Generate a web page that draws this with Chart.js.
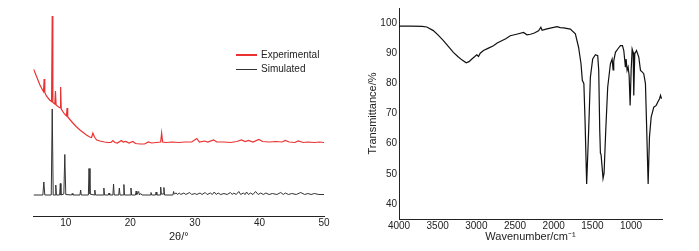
<!DOCTYPE html>
<html>
<head>
<meta charset="utf-8">
<script src="https://cdn.jsdelivr.net/npm/chart.js@4/dist/chart.umd.min.js"></script>
<style>
  body { margin: 0; background: #fff; width: 699px; height: 251px; overflow: hidden; position: relative; font-family: "Liberation Sans", Arial, sans-serif; }
  #xrd { position: absolute; left: 0; top: 0; }
  #ir { position: absolute; left: 350px; top: 0; }
  .lg { position: absolute; font-size: 10px; line-height: 12px; color: #222; }
  .lgline { position: absolute; height: 1.5px; width: 21px; }
</style>
</head>
<body>
<canvas id="xrd" width="350" height="251"></canvas>
<canvas id="ir" width="349" height="251"></canvas>
<div class="lgline" style="left:236px; top:54px; background:rgb(235,50,50)"></div>
<div class="lg" style="left:261px; top:49px">Experimental</div>
<div class="lgline" style="left:236px; top:68.5px; background:#333"></div>
<div class="lg" style="left:261px; top:63px">Simulated</div>
<script>
// PXRD (left panel)
var expTheta = [5.0, 5.5, 6.0, 6.4, 6.55, 6.65, 6.75, 7.0, 7.5, 7.8, 7.9, 8.0, 8.3, 8.4, 8.5, 8.9, 9.15, 9.2, 9.3,
  9.8, 10.1, 10.2, 10.3, 10.7, 11.1, 11.6, 12.2, 12.7, 13.2, 13.7, 14.0, 14.2, 14.45, 14.8, 15.3, 16.0, 16.5,
  17.0, 17.3, 17.6, 18.0, 18.6, 18.9, 19.3, 19.8, 20.4, 20.8, 21.5, 22.2, 22.8, 23.3, 24.0, 24.7, 24.85, 25.0,
  25.5, 26.5, 27.5, 28.5, 29.5, 30.3, 30.7, 31.5, 32.0, 32.9, 33.4, 34.5, 35.5, 36.5, 37.2, 37.8, 38.3, 39.0,
  39.9, 40.5, 41.5, 42.5, 43.5, 44.0, 44.6, 45.5, 46.0, 46.8, 47.5, 48.5, 49.3, 50.0];
var expIntensity = [147, 139, 131, 126, 124.5, 137, 123.5, 120, 116, 114.5, 200, 113.5, 112, 125, 111, 109, 108, 129, 107,
  102, 100, 108, 99, 96, 93, 89.5, 86, 83.5, 81, 79, 78.5, 83, 79, 76, 75, 74, 73.5,
  73.5, 75.5, 73.5, 73, 75.5, 74, 74.5, 73, 74.5, 72.5, 72, 72, 74, 73, 73.5, 74, 83, 74,
  73.5, 74, 73.5, 74, 74, 77.5, 74, 75, 74, 76, 74, 74, 73.5, 74.5, 76, 74.5, 75.5, 74,
  76.5, 74.5, 74, 74.5, 74, 75.5, 74, 73.5, 75, 73.5, 74, 73.5, 74, 73.5];

var simTheta = [5.0, 6.45, 6.6, 6.75, 7.75, 7.9, 8.05, 8.35, 8.45, 8.55, 9.05, 9.15, 9.25, 9.7, 9.85, 10.0,
  10.9, 11.0, 11.1, 12.2, 12.3, 12.4, 13.5, 13.6, 13.75, 14.4, 14.5, 14.6, 15.8, 15.9, 16.0, 16.6, 16.7, 16.8,
  17.3, 17.4, 17.5, 18.2, 18.3, 18.4, 18.9, 19.0, 19.1, 20.0, 20.1, 20.2, 20.8, 20.9, 21.0, 21.3, 21.4, 21.6, 21.8,
  23.1, 23.2, 23.3, 23.9, 24.0, 24.1, 24.6, 24.7, 24.8, 25.1, 25.2, 25.3, 26.6, 26.7, 26.8, 27.1, 27.3,
  27.6, 27.8, 28.3, 28.6, 29.2, 29.5, 30.0, 30.3, 30.8, 31.1, 31.6, 31.9, 32.4, 32.7, 33.0, 33.3, 33.6, 34.0,
  34.5, 35.0, 35.5, 35.8, 36.0, 36.4, 36.8, 37.1, 37.5, 37.8, 38.0, 38.3, 38.6, 39.0, 39.4, 39.8, 40.2, 40.6,
  41.0, 41.5, 42.0, 42.7, 43.3, 43.7, 44.0, 44.5, 45.0, 45.7, 46.4, 47.0, 47.5, 48.0, 48.5, 49.2, 50.0];
var simIntensity = [21, 21, 34, 21, 21, 107, 21, 21, 31, 21, 21, 32.5, 21, 22, 61.5, 21.5,
  21, 22.5, 21, 21, 26, 21, 21, 47.5, 22, 21, 26, 21, 21, 28, 21, 21, 23, 21,
  21, 32, 21, 21, 28, 21, 21, 31.5, 21, 21, 28, 21, 21, 25, 21.5, 24.5, 21, 22.5, 21,
  21, 23.5, 21, 21, 24, 21, 21, 29, 22, 22, 28.5, 21, 21, 24.5, 22, 23, 21.5,
  23, 21.5, 23, 21.5, 23.5, 21.5, 22.5, 21.5, 23, 21.5, 23.5, 21.5, 23, 21.5, 24, 21.5, 23, 21.5,
  22.5, 21.5, 23.5, 21.5, 23, 21.5, 24.5, 21.5, 23, 21.5, 24, 21.5, 23, 21.5, 24.5, 21.5, 23, 21.5,
  23, 21.5, 22.5, 21.5, 23.5, 21.5, 23, 21.5, 22.5, 21.5, 23.5, 21.5, 22.5, 21.5, 22.5, 21.5, 21.5];
var thetaTicks = [10, 20, 30, 40, 50];

// FT-IR (right panel)
var irWavenumber = [4000, 3850, 3700, 3640, 3556, 3490, 3426, 3360, 3297, 3240, 3188, 3132, 3095, 3058, 3020, 2994,
  2972, 2950, 2908, 2850, 2779, 2730, 2692, 2620, 2562, 2480, 2390, 2346, 2300, 2250, 2196, 2166, 2150, 2100,
  2044, 1957, 1915, 1871, 1785, 1720, 1678, 1647, 1630, 1610, 1595, 1574, 1548, 1526, 1496, 1461, 1431, 1418,
  1405, 1396, 1388, 1362, 1349, 1327, 1302, 1267, 1245, 1232, 1224, 1202, 1172, 1137, 1111, 1094, 1073, 1064,
  1051, 1038, 1025, 1012, 999, 986, 973, 965, 952, 930, 900, 878, 857, 836, 814, 801, 779, 762, 740, 706, 675,
  654, 632, 619, 606];
var irTransmittance = [99.0, 99.0, 98.9, 98.7, 97.5, 95.9, 94.2, 92.2, 90.3, 88.9, 87.8, 86.8, 87.2, 88.1, 88.9, 89.5,
  88.9, 90.0, 90.9, 91.6, 92.5, 93.4, 93.9, 94.8, 95.8, 96.3, 96.9, 96.1, 96.3, 96.7, 97.4, 98.6, 97.6, 98.0,
  98.3, 98.8, 98.5, 98.4, 98.0, 96.4, 91.9, 86.5, 81.0, 79.9, 67.8, 46.6, 64.5, 82.0, 88.1, 89.5, 89.2, 84.3,
  64.5, 56.8, 56.4, 48.5, 50.2, 64.5, 78.7, 86.5, 88.1, 84.5, 87.4, 90.3, 91.4, 92.5, 92.5, 90.9, 85.4, 88.1,
  84.3, 85.4, 82.6, 72.7, 84.3, 91.4, 90.3, 76.0, 89.8, 90.9, 88.7, 84.3, 83.8, 83.2, 79.9, 67.8, 46.6, 62.2, 68.8, 72.1, 72.7,
  73.8, 74.9, 76.0, 74.9];
var irTicksX = [4000, 3500, 3000, 2500, 2000, 1500, 1000];
var irTicksY = [40, 50, 60, 70, 80, 90, 100];

function pairs(xs, ys) {
  return xs.map((x, i) => ({ x: x, y: ys[i] }));
}

Chart.defaults.font.family = '"Liberation Sans", Arial, sans-serif';
Chart.defaults.color = '#222';
Chart.defaults.animation = false;

new Chart(document.getElementById('xrd'), {
  type: 'line',
  data: {
    datasets: [
      { label: 'Experimental', data: pairs(expTheta, expIntensity), borderColor: 'rgb(235,50,50)', borderWidth: 1.2, pointRadius: 0, tension: 0 },
      { label: 'Simulated', data: pairs(simTheta, simIntensity), borderColor: '#333', borderWidth: 1, pointRadius: 0, tension: 0 }
    ]
  },
  options: {
    responsive: false,
    layout: { padding: { left: 33.5, right: 26, top: 6, bottom: 0 } },
    plugins: { legend: { display: false }, tooltip: { enabled: false } },
    scales: {
      x: {
        type: 'linear', min: 5, max: 50,
        afterBuildTicks: s => { s.ticks = thetaTicks.map(v => ({ value: v })); },
        afterFit: s => { s.height = 35; },
        grid: { display: false, drawTicks: false },
        border: { display: true, color: '#222', width: 1 },
        ticks: { padding: 1, font: { size: 10 }, color: '#222', callback: v => String(v) },
        title: { display: true, text: '2θ/°', font: { size: 11 }, color: '#222', padding: { top: 0, bottom: 7 } }
      },
      y: { display: false, min: 0, max: 210 }
    }
  }
});

new Chart(document.getElementById('ir'), {
  type: 'line',
  data: {
    datasets: [
      { label: 'IR', data: pairs(irWavenumber, irTransmittance), borderColor: '#111', borderWidth: 1.2, pointRadius: 0, tension: 0 }
    ]
  },
  options: {
    responsive: false,
    layout: { padding: { left: 0, right: 37, top: 7, bottom: 0 } },
    plugins: { legend: { display: false }, tooltip: { enabled: false } },
    scales: {
      x: {
        type: 'linear', min: 600, max: 4000, reverse: true,
        afterBuildTicks: s => { s.ticks = irTicksX.map(v => ({ value: v })); },
        afterFit: s => { s.height = 32; },
        grid: { display: false, drawTicks: false },
        border: { display: true, color: '#222', width: 1 },
        ticks: { padding: 1, font: { size: 10 }, color: '#222', callback: v => String(v) },
        title: { display: true, text: 'Wavenumber/cm⁻¹', font: { size: 11 }, color: '#222', padding: { top: 0, bottom: 7 } }
      },
      y: {
        min: 35, max: 105,
        afterBuildTicks: s => { s.ticks = irTicksY.map(v => ({ value: v })); },
        afterFit: s => { s.width = 49; },
        grid: { display: false, drawTicks: false },
        border: { display: true, color: '#222', width: 1 },
        ticks: { padding: 2, font: { size: 10 }, color: '#222', callback: v => String(v) },
        title: { display: true, text: 'Transmittance/%', font: { size: 11 }, color: '#222', padding: { top: 16, bottom: 0 } }
      }
    }
  }
});
</script>
</body>
</html>
